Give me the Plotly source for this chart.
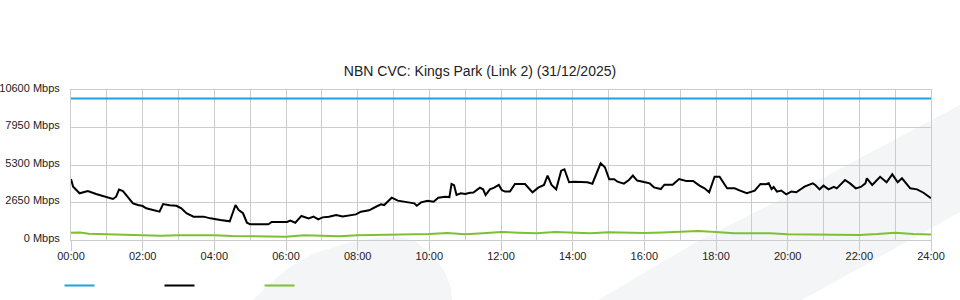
import plotly.graph_objects as go

# ---------------- data ----------------
total_hours = [0.0, 0.06, 0.24, 0.47, 0.7, 0.94, 1.17, 1.26, 1.34, 1.45, 1.54, 1.73, 1.87, 2.0, 2.1,
               2.38, 2.47, 2.57, 2.75, 2.94, 3.08, 3.22, 3.33, 3.42, 3.7, 3.89, 4.17, 4.43, 4.51,
               4.59, 4.68, 4.8, 4.91, 5.0, 5.51, 5.6, 6.03, 6.12, 6.26, 6.43, 6.63, 6.77, 6.9, 7.02,
               7.2, 7.4, 7.58, 7.81, 7.95, 8.09, 8.32, 8.51, 8.65, 8.74, 8.84, 8.95, 9.12, 9.3, 9.58,
               9.65, 9.77, 9.95, 10.12, 10.25, 10.44, 10.56, 10.62, 10.69, 10.76, 10.88, 11.0, 11.14,
               11.23, 11.41, 11.5, 11.57, 11.69, 11.81, 11.94, 12.02, 12.11, 12.25, 12.39, 12.67,
               12.88, 13.04, 13.2, 13.3, 13.41, 13.54, 13.68, 13.77, 13.9, 14.03, 14.27, 14.41,
               14.55, 14.66, 14.78, 14.9, 15.02, 15.16, 15.25, 15.43, 15.57, 15.68, 15.8, 15.99,
               16.15, 16.27, 16.46, 16.56, 16.79, 16.97, 17.17, 17.36, 17.54, 17.68, 17.81, 17.96,
               18.1, 18.31, 18.52, 18.67, 18.86, 19.08, 19.24, 19.39, 19.47, 19.55, 19.61, 19.7,
               19.82, 19.96, 20.1, 20.24, 20.47, 20.7, 20.77, 20.89, 21.0, 21.14, 21.29, 21.37,
               21.6, 21.74, 21.9, 22.04, 22.17, 22.21, 22.36, 22.58, 22.76, 22.92, 23.07, 23.19,
               23.42, 23.61, 23.79, 24.0]
total_mbps = [4310, 3770, 3300, 3460, 3250, 3090, 2900, 3060, 3560, 3460, 3180, 2590, 2470, 2400, 2240,
              2070, 2000, 2540, 2450, 2420, 2240, 1890, 1770, 1650, 1650, 1530, 1410, 1320, 1890,
              2470, 2120, 1890, 1220, 1110, 1110, 1270, 1270, 1370, 1220, 1700, 1530, 1650, 1460, 1600,
              1650, 1770, 1670, 1770, 1810, 2000, 2100, 2350, 2520, 2470, 2710, 2990, 2780, 2710, 2590,
              2420, 2660, 2780, 2710, 2990, 3060, 3030, 3960, 3870, 3180, 3300, 3250, 3340,
              3360, 3700, 3580, 3180, 3580, 3700, 3890, 3530, 3420, 3420, 3960, 3960,
              3370, 3700, 3890, 4550, 3890, 3580, 4900, 5000, 4080, 4120, 4120, 4080,
              3980, 4710, 5420, 5140, 4290, 4290, 4120, 3980, 4240, 4550, 4200, 4100,
              4000, 3720, 3600, 3910, 3910, 4310, 4170, 4170, 3840, 3650, 3370, 4470,
              4470, 3650, 3650, 3490, 3300, 3490, 3960, 3940, 4010, 3600, 3750, 3420,
              3500, 3230, 3420, 3370, 3770, 4000, 3890, 3580, 3840, 3580, 3750, 3650,
              4240, 4000, 3650, 3750, 4000, 4360, 3890, 4470, 4080, 4640, 4080, 4360,
              3650, 3580, 3340, 2950]

green_hours = [0.0, 0.25, 0.5, 1.0, 1.5, 2.0, 2.5, 3.0, 3.5, 4.0, 4.5, 5.0, 5.5, 6.0, 6.5, 7.0, 7.5,
               8.0, 8.5, 9.0, 9.5, 10.0, 10.5, 11.0, 11.5, 12.0, 12.5, 13.0, 13.5, 14.0, 14.5, 15.0,
               15.5, 16.0, 16.5, 17.0, 17.5, 18.0, 18.5, 19.0, 19.5, 20.0, 20.5, 21.0, 21.5, 22.0,
               22.5, 23.0, 23.5, 24.0]
green_mbps = [520, 530, 450, 420, 400, 380, 300, 330, 360, 340, 290, 280, 270, 230, 340, 290, 270,
              330, 350, 360, 380, 420, 500, 410, 480, 560, 520, 480, 560, 520, 470, 540,
              510, 490, 530, 580, 640, 560, 480, 470, 480, 400, 390, 380, 400, 360,
              420, 520, 420, 390]

capacity_hours = [0, 24]
capacity_mbps = [10000, 10000]

x_tick_vals = [0, 2, 4, 6, 8, 10, 12, 14, 16, 18, 20, 22, 24]
x_tick_text = ["00:00", "02:00", "04:00", "06:00", "08:00", "10:00", "12:00",
               "14:00", "16:00", "18:00", "20:00", "22:00", "24:00"]
y_tick_vals = [0, 2650, 5300, 7950, 10600]
y_tick_text = ["0 Mbps", "2650 Mbps", "5300 Mbps", "7950 Mbps", "10600 Mbps"]

title_text = "NBN CVC: Kings Park (Link 2) (31/12/2025)"

# ---------------- styling ----------------
W, H = 960, 300
ML, MR, MT, MB = 71, 29, 90, 60
PW, PH = W - ML - MR, H - MT - MB


def px(x):
    return (x - ML) / PW


def py(y):
    return (H - MB - y) / PH


def path_from(points):
    s = "M " + " L ".join(f"{px(a):.4f},{py(b):.4f}" for a, b in points) + " Z"
    return s


leaf_pts = [(253, 300), (270, 283), (290, 267), (315, 253), (347, 243), (375, 238), (398, 237),
            (415, 241), (432, 255), (445, 272), (451, 288), (452, 300)]
band_pts = [(598, 300), (700, 240), (815, 182), (960, 105), (960, 212), (910, 240), (802, 300)]

fig = go.Figure()
fig.add_trace(go.Scatter(x=capacity_hours, y=capacity_mbps, mode="lines", name="",
                         line=dict(color="#1da1e2", width=2)))
fig.add_trace(go.Scatter(x=total_hours, y=total_mbps, mode="lines", name="",
                         line=dict(color="#000000", width=2)))
fig.add_trace(go.Scatter(x=green_hours, y=green_mbps, mode="lines", name="",
                         line=dict(color="#7dc034", width=2)))

font_fam = "Liberation Sans, Arial, sans-serif"

fig.update_layout(
    width=W, height=H,
    margin=dict(l=ML, r=MR, t=MT, b=MB, autoexpand=False),
    paper_bgcolor="#ffffff",
    plot_bgcolor="rgba(0,0,0,0)",
    font=dict(family=font_fam, size=11, color="#222222"),
    title=dict(text=title_text, x=0.5, xref="container", xanchor="center",
               y=1 - 71 / H, yref="container", yanchor="middle",
               font=dict(family=font_fam, size=14, color="#222222")),
    showlegend=True,
    legend=dict(orientation="h", x=px(59.5), xanchor="left", y=py(271), yanchor="top",
                entrywidth=55, entrywidthmode="pixels", bgcolor="rgba(0,0,0,0)",
                font=dict(size=11)),
    xaxis=dict(range=[0, 24], tickvals=x_tick_vals, ticktext=x_tick_text,
               showgrid=True, gridcolor="#cccccc", gridwidth=1,
               minor=dict(dtick=1, showgrid=True, gridcolor="#cccccc", gridwidth=1, ticks=""),
               ticks="outside", ticklen=10, tickcolor="#cccccc", tickwidth=1,
               ticklabelstandoff=-4,
               showline=True, linecolor="#cccccc", linewidth=1, mirror=True,
               zeroline=False, fixedrange=True),
    yaxis=dict(range=[0, 10600], tickvals=y_tick_vals, ticktext=y_tick_text,
               showgrid=True, gridcolor="#cccccc", gridwidth=1,
               ticks="outside", ticklen=8, tickcolor="rgba(0,0,0,0)",
               ticklabelshift=-2,
               showline=True, linecolor="#cccccc", linewidth=1, mirror=True,
               zeroline=False, fixedrange=True),
    shapes=[
        dict(type="path", xref="paper", yref="paper", path=path_from(leaf_pts),
             fillcolor="#f4f5f7", line=dict(width=0), layer="below"),
        dict(type="path", xref="paper", yref="paper", path=path_from(band_pts),
             fillcolor="#f4f5f7", line=dict(width=0), layer="below"),
    ],
)

fig.write_html("out.html")
